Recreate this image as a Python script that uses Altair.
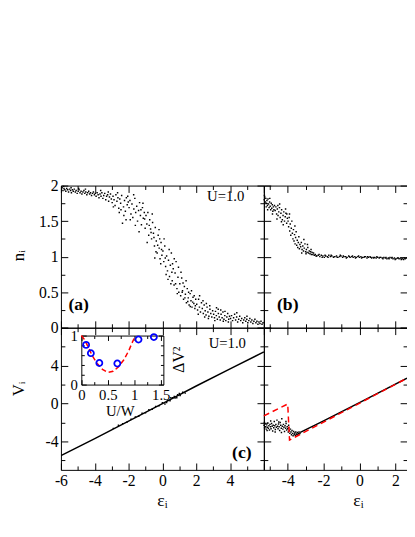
import altair as alt
import pandas as pd

FONT = "Liberation Serif"

# ---------------- data ----------------
# panel (a): n_i vs eps_i  (U=1.0)
a_points = [
    (-5.98, 1.95), (-5.93, 1.97), (-5.88, 1.93), (-5.82, 1.96), (-5.77, 1.94), (-5.71, 1.92), (-5.66, 1.96),
    (-5.60, 1.94), (-5.55, 1.91), (-5.49, 1.95), (-5.43, 1.93), (-5.38, 1.90), (-5.32, 1.94), (-5.27, 1.92),
    (-5.21, 1.95), (-5.15, 1.91), (-5.10, 1.93), (-5.04, 1.89), (-4.98, 1.92), (-4.93, 1.94), (-4.87, 1.90),
    (-4.81, 1.92), (-4.76, 1.88), (-4.70, 1.91), (-4.64, 1.93), (-4.59, 1.89), (-4.53, 1.91), (-4.47, 1.87),
    (-4.42, 1.90), (-4.36, 1.92), (-4.30, 1.88), (-4.25, 1.90), (-4.19, 1.86), (-4.13, 1.89), (-4.08, 1.91),
    (-4.02, 1.87), (-5.85, 1.99), (-5.40, 1.97), (-4.95, 1.96), (-4.55, 1.95),
    (-3.97, 1.89), (-3.92, 1.85), (-3.86, 1.90), (-3.80, 1.87), (-3.75, 1.83), (-3.69, 1.88), (-3.63, 1.85),
    (-3.58, 1.90), (-3.52, 1.82), (-3.47, 1.86), (-3.41, 1.89), (-3.35, 1.80), (-3.30, 1.85), (-3.24, 1.87),
    (-3.18, 1.78), (-3.13, 1.84), (-3.07, 1.88), (-3.02, 1.81), (-3.65, 1.93), (-3.20, 1.91),
    (-2.97, 1.76), (-2.92, 1.85), (-2.86, 1.80), (-2.80, 1.72), (-2.75, 1.87), (-2.69, 1.78), (-2.63, 1.83),
    (-2.58, 1.68), (-2.52, 1.81), (-2.47, 1.75), (-2.41, 1.86), (-2.36, 1.47), (-2.30, 1.70), (-2.24, 1.79),
    (-2.19, 1.64), (-2.13, 1.83), (-2.08, 1.73), (-2.02, 1.77), (-2.90, 1.70), (-2.55, 1.62), (-2.28, 1.58),
    (-2.65, 1.90), (-2.15, 1.52), (-2.45, 1.66), (-2.05, 1.85),
    (-1.97, 1.69), (-1.92, 1.79), (-1.86, 1.60), (-1.80, 1.74), (-1.75, 1.55), (-1.69, 1.67), (-1.63, 1.82),
    (-1.58, 1.62), (-1.52, 1.71), (-1.47, 1.50), (-1.41, 1.65), (-1.35, 1.76), (-1.30, 1.58), (-1.24, 1.45),
    (-1.18, 1.69), (-1.13, 1.54), (-1.07, 1.62), (-1.02, 1.40), (-1.90, 1.52), (-1.60, 1.44), (-1.38, 1.35),
    (-1.15, 1.75), (-1.70, 1.87), (-1.27, 1.66), (-1.05, 1.53),
    (-0.97, 1.58), (-0.92, 1.46), (-0.86, 1.62), (-0.81, 1.30), (-0.75, 1.52), (-0.70, 1.39), (-0.64, 1.25),
    (-0.58, 1.48), (-0.53, 1.33), (-0.47, 1.15), (-0.42, 1.41), (-0.36, 1.22), (-0.31, 1.05), (-0.25, 1.30),
    (-0.19, 1.12), (-0.14, 0.97), (-0.08, 1.20), (-0.03, 1.02), (-0.90, 1.20), (-0.60, 1.60), (-0.45, 0.98),
    (-0.20, 1.38), (-0.10, 0.90), (-0.78, 1.44), (-0.50, 1.27), (-0.28, 1.16), (-0.05, 1.10), (-0.67, 1.34),
    (-0.38, 1.07), (-0.16, 1.25),
    (0.03, 1.08), (0.08, 0.93), (0.14, 1.15), (0.19, 0.86), (0.25, 1.01), (0.30, 0.80), (0.36, 0.95),
    (0.42, 0.72), (0.47, 0.88), (0.53, 1.05), (0.58, 0.66), (0.64, 0.83), (0.69, 0.60), (0.75, 0.77),
    (0.81, 0.93), (0.86, 0.55), (0.92, 0.71), (0.97, 0.50), (0.10, 1.25), (0.22, 0.75), (0.40, 1.10),
    (0.60, 0.90), (0.78, 0.62), (0.95, 0.85), (0.33, 0.68), (0.50, 0.62), (0.70, 0.97), (0.88, 0.48),
    (0.17, 0.98), (0.56, 0.78),
    (1.03, 0.62), (1.08, 0.45), (1.14, 0.70), (1.19, 0.52), (1.25, 0.40), (1.30, 0.58), (1.36, 0.47),
    (1.42, 0.35), (1.47, 0.55), (1.53, 0.42), (1.58, 0.32), (1.64, 0.48), (1.69, 0.38), (1.75, 0.29),
    (1.81, 0.43), (1.86, 0.34), (1.92, 0.27), (1.97, 0.40), (1.10, 0.78), (1.22, 0.63), (1.40, 0.66),
    (1.55, 0.50), (1.72, 0.52), (1.88, 0.45), (1.33, 0.42), (1.50, 0.37), (1.65, 0.30), (1.79, 0.36),
    (1.95, 0.31), (1.17, 0.50),
    (2.03, 0.33), (2.08, 0.25), (2.14, 0.40), (2.19, 0.29), (2.25, 0.22), (2.31, 0.35), (2.36, 0.27),
    (2.42, 0.20), (2.47, 0.32), (2.53, 0.24), (2.58, 0.18), (2.64, 0.29), (2.69, 0.22), (2.75, 0.16),
    (2.81, 0.26), (2.86, 0.20), (2.92, 0.15), (2.97, 0.24), (2.20, 0.45), (2.40, 0.38), (2.60, 0.34),
    (2.80, 0.31), (2.12, 0.19), (2.50, 0.15), (2.72, 0.13),
    (3.03, 0.19), (3.08, 0.14), (3.14, 0.23), (3.19, 0.17), (3.25, 0.12), (3.31, 0.20), (3.36, 0.15),
    (3.42, 0.11), (3.47, 0.19), (3.53, 0.14), (3.58, 0.22), (3.64, 0.12), (3.69, 0.17), (3.75, 0.10),
    (3.81, 0.15), (3.86, 0.20), (3.92, 0.12), (3.97, 0.16), (3.20, 0.28), (3.45, 0.25), (3.70, 0.23),
    (3.90, 0.08), (3.10, 0.10), (3.60, 0.09), (3.30, 0.26),
    (4.03, 0.13), (4.09, 0.17), (4.15, 0.10), (4.21, 0.14), (4.27, 0.19), (4.33, 0.11), (4.39, 0.15),
    (4.45, 0.08), (4.51, 0.12), (4.57, 0.16), (4.63, 0.10), (4.69, 0.13), (4.75, 0.07), (4.81, 0.11),
    (4.87, 0.14), (4.93, 0.09), (4.99, 0.12), (5.05, 0.07), (5.11, 0.10), (5.17, 0.13), (5.23, 0.08),
    (5.29, 0.11), (5.35, 0.06), (5.41, 0.09), (5.47, 0.12), (5.53, 0.07), (5.59, 0.09), (5.65, 0.05),
    (5.71, 0.08), (5.77, 0.06), (5.83, 0.09), (5.89, 0.05), (5.95, 0.07), (4.40, 0.21), (5.00, 0.16),
]

# panel (b): n_i vs eps_i
b_points = [
    (-5.31, 1.80), (-5.28, 1.84), (-5.25, 1.77), (-5.22, 1.82), (-5.19, 1.75), (-5.16, 1.79), (-5.13, 1.72),
    (-5.10, 1.81), (-5.07, 1.74), (-5.04, 1.69), (-5.01, 1.77), (-4.98, 1.71), (-4.95, 1.66), (-4.92, 1.75),
    (-4.89, 1.68), (-4.86, 1.73), (-4.83, 1.64), (-4.80, 1.70), (-4.77, 1.66), (-4.74, 1.72), (-5.30, 1.86),
    (-5.20, 1.70), (-5.00, 1.82), (-4.85, 1.60), (-5.12, 1.66),
    (-4.70, 1.65), (-4.66, 1.70), (-4.62, 1.60), (-4.58, 1.67), (-4.54, 1.58), (-4.50, 1.63), (-4.46, 1.69),
    (-4.42, 1.55), (-4.38, 1.61), (-4.34, 1.66), (-4.30, 1.52), (-4.26, 1.58), (-4.22, 1.63), (-4.18, 1.50),
    (-4.14, 1.56), (-4.10, 1.61), (-4.06, 1.47), (-4.02, 1.54), (-4.60, 1.53), (-4.45, 1.74), (-4.25, 1.45),
    (-4.12, 1.67), (-4.35, 1.49), (-4.55, 1.72), (-4.05, 1.60),
    (-3.98, 1.50), (-3.95, 1.42), (-3.92, 1.55), (-3.89, 1.36), (-3.86, 1.46), (-3.83, 1.30), (-3.80, 1.40),
    (-3.77, 1.50), (-3.74, 1.33), (-3.71, 1.25), (-3.68, 1.38), (-3.65, 1.22), (-3.62, 1.31), (-3.59, 1.18),
    (-3.56, 1.27), (-3.53, 1.35), (-3.50, 1.16), (-3.47, 1.23), (-3.44, 1.13), (-3.41, 1.20), (-3.38, 1.28),
    (-3.35, 1.11), (-3.32, 1.17), (-3.90, 1.60), (-3.60, 1.43),
    (-3.28, 1.14), (-3.24, 1.20), (-3.20, 1.10), (-3.16, 1.15), (-3.12, 1.08), (-3.08, 1.12), (-3.04, 1.18),
    (-3.00, 1.07), (-2.96, 1.10), (-2.92, 1.06), (-2.88, 1.13), (-2.84, 1.05), (-2.80, 1.08), (-2.76, 1.04),
    (-2.72, 1.07), (-2.68, 1.03), (-2.64, 1.06), (-2.60, 1.03), (-2.56, 1.05), (-2.52, 1.02), (-3.10, 1.24),
    (-2.90, 1.17), (-3.22, 1.05), (-2.70, 1.10), (-2.98, 1.04),
    (-2.46, 1.03), (-2.38, 1.01), (-2.30, 1.02), (-2.21, 1.00), (-2.13, 1.02), (-2.04, 1.01), (-1.96, 0.99),
    (-1.88, 1.01), (-1.79, 1.00), (-1.71, 1.02), (-1.62, 1.00), (-1.54, 1.01), (-1.45, 0.99), (-1.37, 1.00),
    (-1.28, 1.01), (-1.20, 0.99), (-1.11, 1.00), (-1.03, 1.01), (-0.94, 0.99), (-0.86, 1.00), (-0.77, 1.00),
    (-0.69, 0.99), (-0.60, 1.01), (-0.52, 0.99), (-0.43, 1.00), (-0.35, 0.99), (-0.26, 1.00), (-0.18, 0.99),
    (-0.09, 1.00), (0.00, 0.99), (0.08, 1.00), (0.17, 0.99), (0.25, 0.99), (0.34, 1.00), (0.42, 0.98),
    (0.51, 0.99), (0.59, 1.00), (0.68, 0.98), (0.76, 0.99), (0.85, 0.99), (0.93, 0.98), (1.02, 0.99),
    (1.10, 0.98), (1.19, 0.99), (1.27, 0.98), (1.36, 0.99), (1.44, 0.98), (1.53, 0.97), (1.61, 0.98),
    (1.70, 0.99), (1.78, 0.98), (1.87, 0.97), (1.95, 0.98), (2.04, 0.97), (2.12, 0.98), (2.21, 0.97),
    (2.29, 0.98), (2.38, 0.97), (2.46, 0.96), (2.55, 0.97), (2.62, 0.98),
    (-2.42, 1.01), (-2.25, 1.03), (-2.08, 0.99), (-1.92, 1.02), (-1.75, 0.99), (-1.58, 1.02), (-1.41, 1.00),
    (-1.24, 0.99), (-1.07, 1.02), (-0.90, 1.01), (-0.73, 0.98), (-0.56, 1.00), (-0.39, 1.01), (-0.22, 0.98),
    (-0.05, 1.01), (0.12, 0.98), (0.29, 1.00), (0.46, 1.00), (0.63, 0.99), (0.80, 0.98), (0.97, 1.00),
    (1.14, 0.99), (1.31, 0.97), (1.48, 0.99), (1.65, 0.97), (1.82, 0.99), (1.99, 0.96), (2.16, 0.98),
    (2.33, 0.96), (2.50, 0.98),
]

# panel (c): V_i vs eps_i  (U=1.0)
c_line_eps = [-6.0, -4.0, -2.0, 0.0, 2.0, 4.0, 6.0]
c_line_v = [-5.5, -3.7, -1.85, 0.0, 1.85, 3.65, 5.45]
c_points = [
    (-2.9, -2.62), (-2.6, -2.30), (-2.35, -2.12), (-2.1, -1.98), (-1.85, -1.66), (-1.6, -1.42), (-1.4, -1.35),
    (-1.2, -1.02), (-1.0, -0.98), (-0.8, -0.66), (-0.6, -0.60), (-0.4, -0.30), (-0.2, -0.24), (0.0, 0.08),
    (0.15, -0.05), (0.3, 0.35), (0.45, 0.30), (0.6, 0.62), (0.75, 0.58), (0.9, 0.92), (1.05, 0.85),
    (1.2, 1.20), (1.35, 1.10), (0.5, 0.60), (0.7, 0.75), (0.85, 0.60), (1.0, 1.05), (0.25, 0.10),
]

# panel (d): V_i vs eps_i
d_points = [
    (-5.32, -2.30), (-5.29, -2.55), (-5.26, -2.15), (-5.23, -2.45), (-5.20, -2.70), (-5.17, -2.25),
    (-5.14, -2.50), (-5.11, -2.05), (-5.08, -2.60), (-5.05, -2.35), (-5.02, -2.80), (-4.99, -2.20),
    (-4.96, -2.45), (-4.93, -2.65), (-4.90, -2.10), (-4.87, -2.40), (-4.84, -2.90), (-4.81, -2.30),
    (-4.78, -2.55), (-4.75, -1.90), (-4.72, -2.35), (-4.69, -2.75), (-4.66, -2.20), (-4.63, -2.50),
    (-4.60, -1.75), (-4.57, -2.40), (-4.54, -2.65), (-4.51, -2.15), (-4.48, -2.45), (-4.45, -2.85),
    (-4.42, -2.00), (-4.39, -2.30), (-4.36, -2.60), (-4.33, -1.60), (-4.30, -2.40), (-4.27, -2.70),
    (-4.24, -2.20), (-4.21, -2.50), (-4.18, -2.95), (-4.15, -2.35), (-4.12, -2.60), (-4.09, -2.10),
    (-4.06, -2.80), (-4.03, -2.45), (-4.00, -2.65), (-3.97, -3.00), (-3.94, -2.55), (-3.91, -2.85),
    (-3.88, -3.15), (-3.85, -2.70), (-3.82, -3.00), (-3.79, -3.30), (-3.76, -2.85), (-3.73, -3.15),
    (-3.70, -3.40), (-3.67, -2.95), (-3.64, -3.25), (-3.61, -3.10), (-3.58, -3.35), (-3.55, -3.00),
    (-3.52, -3.20), (-3.49, -3.30), (-3.46, -3.05), (-3.43, -3.25), (-3.40, -3.15), (-3.37, -3.00),
    (-3.34, -3.20), (-3.31, -3.10), (-5.30, -2.00), (-5.15, -2.85), (-4.95, -1.85), (-4.70, -3.00),
    (-4.50, -1.95), (-4.35, -3.05), (-4.10, -1.90), (-3.95, -2.30),
]
d_line_eps = [-3.3, -2.0, 0.0, 2.65]
d_line_v = [-3.05, -1.82, 0.1, 2.67]
d_dash_eps = [-5.33, -4.0, -3.9, 2.65]
d_dash_v = [-1.3, -0.05, -3.85, 2.67]

# inset of (c): Delta V^2 vs U/W
inset_uw = [0.09, 0.18, 0.34, 0.68, 1.08, 1.37]
inset_dv2 = [0.81, 0.64, 0.44, 0.43, 0.92, 0.97]
curve_uw = [0.0, 0.05, 0.1, 0.15, 0.2, 0.3, 0.4, 0.5, 0.6, 0.7, 0.8, 0.9, 0.95, 1.0]
curve_dv2 = [1.0, 0.93, 0.83, 0.72, 0.6, 0.43, 0.31, 0.25, 0.27, 0.36, 0.5, 0.7, 0.83, 0.95]

# axis ticks and labels
a_xticks = [-6, -5, -4, -3, -2, -1, 0, 1, 2, 3, 4, 5, 6]
b_xticks = [-5, -4, -3, -2, -1, 0, 1, 2]
n_ticks = [0, 0.25, 0.5, 0.75, 1, 1.25, 1.5, 1.75, 2]
n_labels = [0, 0.5, 1, 1.5, 2]
v_ticks = [-6, -4, -2, 0, 2, 4, 6, 8]
v_labels = [-4, 0, 4]
a_xlabels = [-6, -4, -2, 0, 2, 4]
b_xlabels = [-4, -2, 0, 2]
inset_xticks = [0, 0.25, 0.5, 0.75, 1, 1.25, 1.5]
inset_xlabels = [0, 0.5, 1, 1.5]
inset_yticks = [0, 0.2, 0.4, 0.6, 0.8, 1]
inset_ylabels = [0, 1]

# ---------------- layout (pixels inside the single view) ----------------
VW, VH = 353, 290
XA0, XA1, XB1 = 0, 207, 353          # left panels 0..207, right panels 207..353
YT0, YT1, YB1 = 0, 145, 290          # top panels 0..145, bottom panels 145..290
IX0, IX1, IY0, IY1 = 20.8, 104.5, 153, 203   # inset box (left, right, top, bottom)


def tick_axis(orient, offset, vals, major, domain, big=7, small=4):
    test = f"abs(datum.value/{major} - round(datum.value/{major})) < 0.001"
    return alt.Axis(orient=orient, offset=offset, values=vals, labels=False, title=None,
                    domain=domain, domainColor="black", domainWidth=1,
                    ticks=True, tickColor="black", tickWidth=1,
                    tickSize=alt.condition(test, alt.value(big), alt.value(small)), grid=False)


def label_axis(orient, offset, vals, show, **kw):
    return alt.Axis(orient=orient, offset=offset, values=vals, labels=show, ticks=False,
                    domain=True, domainColor="black", domainWidth=1, grid=False,
                    labelExpr="datum.value + ''", labelFlush=False, labelOverlap=False, **kw)


def frame(xsc, ysc, x0, x1, y0, y1, xlab, ylab, xt, xmaj, yt, ymaj, right_dom=True, big=7, small=4):
    """three invisible layers that carry the label axes and the inward ticks of one box"""
    dummy = pd.DataFrame({"x": [xt[1]], "y": [yt[1]]})

    def lay(xax, yax):
        return alt.Chart(dummy).mark_point(opacity=0).encode(
            x=alt.X("x:Q", scale=xsc, axis=xax),
            y=alt.Y("y:Q", scale=ysc, axis=yax))
    return [
        lay(xlab, ylab),
        lay(tick_axis("top", -y1, xt, xmaj, False, big, small),
            tick_axis("right", x0 - VW, yt, ymaj, False, big, small)),
        lay(tick_axis("bottom", y0 - VH, xt, xmaj, True, big, small),
            tick_axis("left", -x1, yt, ymaj, right_dom, big, small)),
    ]


def dots(points, xsc, ysc):
    df = pd.DataFrame(points, columns=["x", "y"])
    return alt.Chart(df).mark_square(size=2.2, color="black", opacity=1, clip=True).encode(
        x=alt.X("x:Q", scale=xsc, axis=None), y=alt.Y("y:Q", scale=ysc, axis=None))


def line(xs, ys, xsc, ysc, **mk):
    df = pd.DataFrame({"x": xs, "y": ys, "i": list(range(len(xs)))})
    return alt.Chart(df).mark_line(clip=True, **mk).encode(
        x=alt.X("x:Q", scale=xsc, axis=None), y=alt.Y("y:Q", scale=ysc, axis=None),
        order="i:Q")


def label(xv, yv, txt, xsc, ysc, bold=False, size=15):
    df = pd.DataFrame({"x": [xv], "y": [yv], "t": [txt]})
    return alt.Chart(df).mark_text(font=FONT, fontSize=size, fontWeight="bold" if bold else "normal",
                                   color="black", align="center", baseline="middle").encode(
        x=alt.X("x:Q", scale=xsc, axis=None), y=alt.Y("y:Q", scale=ysc, axis=None), text="t:N")


def ind(*layers):
    return alt.layer(*layers).resolve_axis(x="independent", y="independent")


LAB = dict(labelFontSize=16, labelPadding=3)
YTITLE = dict(titleX=-38, titleAngle=270, titleAlign="center", titleBaseline="alphabetic",
              titleFontSize=17)
XTITLE = dict(titleY=36, titleAlign="center", titleBaseline="alphabetic", titleFontSize=18)

# scales: every panel has its own box inside the view
xs_a = alt.Scale(domain=[-6, 6], range=[XA0, XA1], nice=False, zero=False)
xs_b = alt.Scale(domain=[-5.33, 2.65], range=[XA1, XB1], nice=False, zero=False)
ys_a = alt.Scale(domain=[0, 2], range=[YT1, YT0], nice=False, zero=False)
xs_c = alt.Scale(domain=[-6, 6], range=[XA0, XA1], nice=False, zero=False)
xs_d = alt.Scale(domain=[-5.33, 2.65], range=[XA1, XB1], nice=False, zero=False)
ys_b = alt.Scale(domain=[0, 2], range=[YT1, YT0], nice=False, zero=False)
ys_c = alt.Scale(domain=[-7, 8], range=[YB1, YT1], nice=False, zero=False)
ys_d = alt.Scale(domain=[-7, 8], range=[YB1, YT1], nice=False, zero=False)
xs_i = alt.Scale(domain=[0, 1.55], range=[IX0, IX1], nice=False, zero=False)
ys_i = alt.Scale(domain=[0, 1], range=[IY1, IY0], nice=False, zero=False)

# ---- panel (a)
pa = ind(
    *frame(xs_a, ys_a, XA0, XA1, YT0, YT1,
           label_axis("bottom", YT1 - VH, a_xlabels, False, title=None),
           label_axis("left", -XA0, n_labels, True, title="nᵢ", titleY=71, **YTITLE, **LAB),
           a_xticks, 2, n_ticks, 0.5),
    dots(a_points, xs_a, ys_a),
    label(-4.95, 0.32, "(a)", xs_a, ys_a, bold=True, size=18),
    label(3.74, 1.85, "U=1.0", xs_a, ys_a),
)

# ---- panel (b)
pb = ind(
    *frame(xs_b, ys_b, XA1, XB1, YT0, YT1,
           label_axis("bottom", YT1 - VH, b_xlabels, False, title=None),
           label_axis("left", -XA1, n_labels, False, title=None),
           b_xticks, 2, n_ticks, 0.5, right_dom=False),
    dots(b_points, xs_b, ys_b),
    label(-4.0, 0.32, "(b)", xs_b, ys_b, bold=True, size=18),
)

# ---- panel (c)
main_c = ind(
    *frame(xs_c, ys_c, XA0, XA1, YT1, YB1,
           label_axis("bottom", 0, a_xlabels, True, title="εᵢ", titleX=103, **XTITLE, **LAB),
           label_axis("left", -XA0, v_labels, True, title="Vᵢ", titleY=YT1 + 62, **YTITLE, **LAB),
           a_xticks, 2, v_ticks, 4),
    line(c_line_eps, c_line_v, xs_c, ys_c, color="black", strokeWidth=1.5),
    dots(c_points, xs_c, ys_c),
    label(4.7, -5.26, "(c)", xs_c, ys_c, bold=True, size=18),
    label(3.84, 6.33, "U=1.0", xs_c, ys_c),
)

idummy = pd.DataFrame({"x": [0.5], "y": [0.5]})


def ilay(xax, yax):
    return alt.Chart(idummy).mark_point(opacity=0).encode(
        x=alt.X("x:Q", scale=xs_i, axis=xax), y=alt.Y("y:Q", scale=ys_i, axis=yax))


inset = ind(
    *frame(xs_i, ys_i, IX0, IX1, IY0, IY1,
           label_axis("bottom", IY1 - VH, inset_xlabels, True, labelPadding=3, labelFontSize=15,
                      title="U/W", titleFontSize=15, titleX=60, titleY=32,
                      titleAlign="center", titleBaseline="alphabetic"),
           label_axis("left", -IX0, inset_ylabels, True, labelPadding=4, labelFontSize=15, title=None),
           inset_xticks, 0.5, inset_yticks, 1, big=5, small=3),
    ilay(None,
         alt.Axis(orient="right", offset=IX1 - VW, labels=False, ticks=False, domain=False,
                  grid=False, title="ΔV²", titleAngle=270, titleFontSize=16, titleX=20.5,
                  titleY=YT1 + 32, titleAlign="center", titleBaseline="alphabetic")),
    line(curve_uw, curve_dv2, xs_i, ys_i, color="#ff0000", strokeWidth=1.5, strokeDash=[5, 3]),
    alt.Chart(pd.DataFrame({"x": inset_uw, "y": inset_dv2})).mark_point(
        shape="circle", filled=False, color="#0000ff", size=38, strokeWidth=1.8, opacity=1).encode(
        x=alt.X("x:Q", scale=xs_i, axis=None), y=alt.Y("y:Q", scale=ys_i, axis=None)),
)

pc = alt.layer(main_c, inset).resolve_scale(x="independent", y="independent")

# ---- panel (d)
pd_ = ind(
    *frame(xs_d, ys_d, XA1, XB1, YT1, YB1,
           label_axis("bottom", 0, b_xlabels, True, title="εᵢ", titleX=XA1 + 96, **XTITLE, **LAB),
           label_axis("left", -XA1, v_labels, False, title=None),
           b_xticks, 2, v_ticks, 4, right_dom=False),
    dots(d_points, xs_d, ys_d),
    line(d_line_eps, d_line_v, xs_d, ys_d, color="black", strokeWidth=1.5),
    line(d_dash_eps, d_dash_v, xs_d, ys_d, color="#ff0000", strokeWidth=1.5, strokeDash=[6, 4]),
)

chart = alt.layer(pa, pb, pc, pd_).resolve_scale(x="independent", y="independent").properties(
    width=VW, height=VH,
    autosize=alt.AutoSizeParams(type="none"),
    padding={"left": 54, "top": 176, "right": 0, "bottom": 46},
    background="white",
).configure_view(stroke=None).configure_axis(
    labelFont=FONT, titleFont=FONT, labelFontSize=16, titleFontSize=18,
    labelColor="black", titleColor="black", titleFontWeight="normal",
)

chart.save("out.html", embed_options={"renderer": "svg", "actions": False})
